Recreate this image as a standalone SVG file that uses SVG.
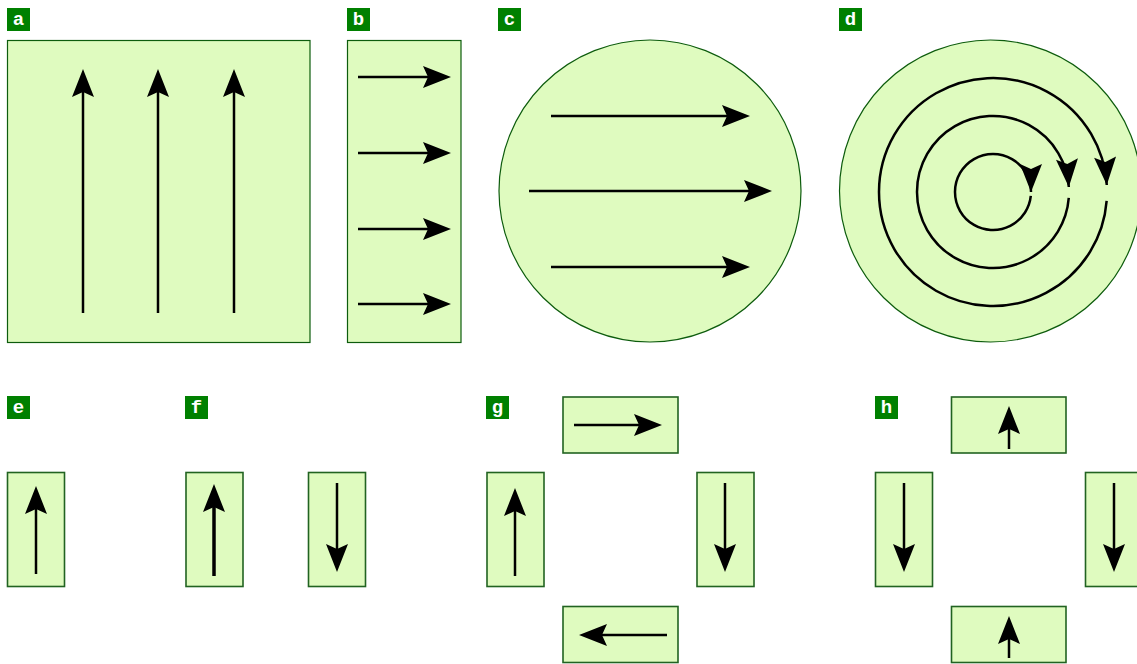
<svg xmlns="http://www.w3.org/2000/svg" width="1137" height="664" viewBox="0 0 1137 664">
  <style>
    .panel { fill: #dffbbf; stroke: #0d5c0d; stroke-width: 1.2; }
    .cell { fill: #dffbbf; stroke: #216321; stroke-width: 1.6; }
    .tag { fill: #008000; }
    .tag-text { fill: #ffffff; font-family: "Liberation Mono", "DejaVu Sans Mono", monospace; font-weight: bold; font-size: 19px; text-anchor: middle; }
    .flow { fill: none; stroke: #000000; stroke-width: 2.5; marker-end: url(#head); }
    .curl { fill: none; stroke: #000000; stroke-width: 2.5; marker-end: url(#head-tip); }
  </style>
  <defs>
    <!-- notched arrowhead; the line stops inside the head -->
    <marker id="head" markerUnits="userSpaceOnUse" markerWidth="32" markerHeight="26" viewBox="-30 -13 32 26" refX="-22" refY="0" orient="auto">
      <path d="M0,0 L-28,-11 L-23,0 L-28,11 Z" fill="#000000"/>
    </marker>
    <!-- same head, anchored at its tip (for curved paths) -->
    <marker id="head-tip" markerUnits="userSpaceOnUse" markerWidth="32" markerHeight="26" viewBox="-30 -13 32 26" refX="0" refY="0" orient="auto">
      <path d="M0,0 L-28,-11 L-23,0 L-28,11 Z" fill="#000000"/>
    </marker>
  </defs>

  <!-- panel tags -->
  <g id="tags">
    <g id="tag-a"><rect class="tag" x="7" y="8" width="23" height="23"/><text class="tag-text" x="18.5" y="25">a</text></g>
    <g id="tag-b"><rect class="tag" x="347" y="8" width="23" height="23"/><text class="tag-text" x="358.5" y="25">b</text></g>
    <g id="tag-c"><rect class="tag" x="498" y="8" width="23" height="23"/><text class="tag-text" x="509.5" y="25">c</text></g>
    <g id="tag-d"><rect class="tag" x="839" y="8" width="23" height="23"/><text class="tag-text" x="850.5" y="25">d</text></g>
    <g id="tag-e"><rect class="tag" x="7" y="396" width="23" height="23"/><text class="tag-text" x="18.5" y="413">e</text></g>
    <g id="tag-f"><rect class="tag" x="185" y="396" width="23" height="23"/><text class="tag-text" x="196.5" y="413">f</text></g>
    <g id="tag-g"><rect class="tag" x="486" y="396" width="23" height="23"/><text class="tag-text" x="497.5" y="413">g</text></g>
    <g id="tag-h"><rect class="tag" x="875" y="396" width="23" height="23"/><text class="tag-text" x="886.5" y="413">h</text></g>
  </g>

  <!-- shapes -->
  <g id="node-a"><rect class="panel" x="7.5" y="40.5" width="302.5" height="302"/></g>
  <g id="node-b"><rect class="panel" x="347.5" y="40.5" width="113.5" height="302"/></g>
  <g id="node-c"><circle class="panel" cx="650" cy="191" r="151"/></g>
  <g id="node-d"><circle class="panel" cx="990.5" cy="191" r="151"/></g>

  <g id="node-e"><rect class="cell" x="7.5" y="472.5" width="57" height="114"/></g>
  <g id="node-f1"><rect class="cell" x="186" y="472.5" width="57" height="114"/></g>
  <g id="node-f2"><rect class="cell" x="308.5" y="472.5" width="57" height="114"/></g>

  <g id="node-g-top"><rect class="cell" x="563" y="397" width="115" height="56"/></g>
  <g id="node-g-left"><rect class="cell" x="487" y="472.5" width="57" height="114"/></g>
  <g id="node-g-right"><rect class="cell" x="697" y="472.5" width="57" height="114"/></g>
  <g id="node-g-bottom"><rect class="cell" x="563" y="606.5" width="115" height="56"/></g>

  <g id="node-h-top"><rect class="cell" x="951.5" y="397" width="114.5" height="56"/></g>
  <g id="node-h-left"><rect class="cell" x="875.5" y="472.5" width="57" height="114"/></g>
  <g id="node-h-right"><rect class="cell" x="1085.5" y="472.5" width="57" height="114"/></g>
  <g id="node-h-bottom"><rect class="cell" x="951.5" y="606.5" width="114.5" height="56"/></g>

  <!-- arrows -->
  <g id="connectors">
    <!-- a: upward -->
    <line class="flow" x1="83" y1="313" x2="83" y2="91"/>
    <line class="flow" x1="158" y1="313" x2="158" y2="91"/>
    <line class="flow" x1="234" y1="313" x2="234" y2="91"/>
    <!-- b: rightward -->
    <line class="flow" x1="358" y1="77" x2="429" y2="77"/>
    <line class="flow" x1="358" y1="153" x2="429" y2="153"/>
    <line class="flow" x1="358" y1="229" x2="429" y2="229"/>
    <line class="flow" x1="358" y1="304" x2="429" y2="304"/>
    <!-- c: rightward across the disc -->
    <line class="flow" x1="551" y1="116" x2="728" y2="116"/>
    <line class="flow" x1="529" y1="191" x2="750" y2="191"/>
    <line class="flow" x1="551" y1="267" x2="728" y2="267"/>
    <!-- d: clockwise rings -->
    <path class="curl" d="M1030.8,195.97 A38,38 0 0 1 974,224.91 A38,38 0 0 1 974,159.09 A38,38 0 0 1 1031,192"/>
    <path class="curl" d="M1068.77,197.96 A76,76 0 0 1 955,257.82 A76,76 0 0 1 955,126.18 A76,76 0 0 1 1068.83,186.96"/>
    <path class="curl" d="M1106.65,200.94 A114,114 0 0 1 936,290.73 A114,114 0 0 1 936,93.27 A114,114 0 0 1 1106.79,185.04"/>
    <!-- e -->
    <line class="flow" x1="36" y1="574" x2="36" y2="508"/>
    <!-- f -->
    <line class="flow" x1="214" y1="576" x2="214" y2="506" style="stroke-width:3.5"/>
    <line class="flow" x1="337" y1="483" x2="337" y2="550"/>
    <!-- g -->
    <line class="flow" x1="574" y1="425" x2="640" y2="425"/>
    <line class="flow" x1="515" y1="576" x2="515" y2="510"/>
    <line class="flow" x1="725" y1="483" x2="725" y2="550"/>
    <line class="flow" x1="667" y1="635" x2="601" y2="635"/>
    <!-- h -->
    <line class="flow" x1="1009" y1="449" x2="1009" y2="428"/>
    <line class="flow" x1="904" y1="483" x2="904" y2="550"/>
    <line class="flow" x1="1114" y1="483" x2="1114" y2="550"/>
    <line class="flow" x1="1009" y1="658" x2="1009" y2="638"/>
  </g>
</svg>
